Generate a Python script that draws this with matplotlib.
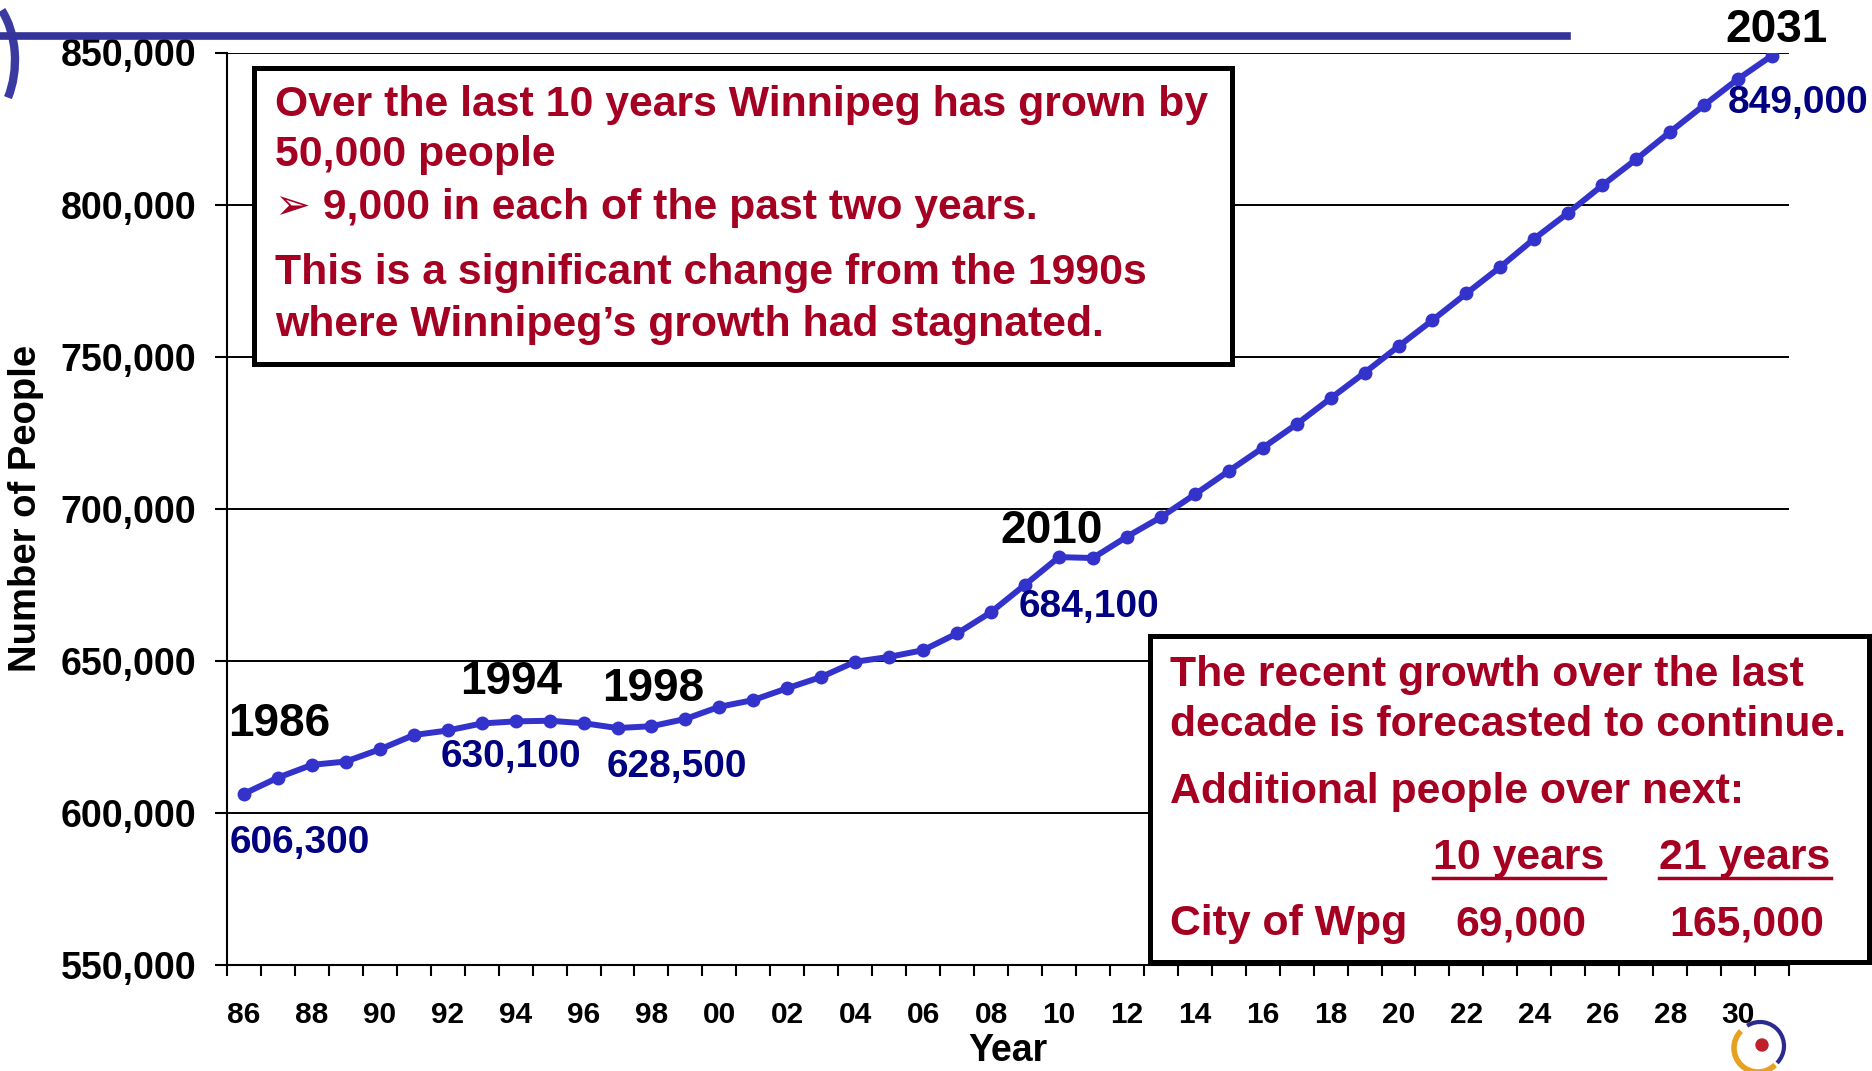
import matplotlib.pyplot as plt
from matplotlib.patches import Rectangle, Ellipse, Arc
from matplotlib.lines import Line2D
from matplotlib.ticker import FuncFormatter

years = list(range(1986, 2032))
population = [606300, 611600, 615800, 616900, 620900, 625600, 627100, 629400, 630100, 630300,
              629500, 627900, 628500, 630900, 634900, 637100, 641000, 644700, 649700, 651300,
              653500, 659000, 666000, 675000, 684100, 683800, 690800, 697200, 704700, 712400,
              720000, 727800, 736300, 744700, 753400, 762000, 770800, 779500, 788800, 797300,
              806300, 814900, 823900, 832700, 841300, 849000]

tick_years = list(range(1986, 2031, 2))
tick_labels = ["%02d" % (y % 100) for y in tick_years]
y_ticks = [550000, 600000, 650000, 700000, 750000, 800000, 850000]

# (year, offset of year label, offset of value label) in pixels
callouts = [(1986, (35, 70), (56, -49)),
            (1994, (-4, 39), (-5, -36)),
            (1998, (2, 37), (25, -41)),
            (2010, (-7, 26), (30, -50)),
            (2031, (4, 26), (26, -47))]

box1_lines = ["Over the last 10 years Winnipeg has grown by",
              "50,000 people",
              "\u27a2 9,000 in each of the past two years.",
              "This is a significant change from the 1990s",
              "where Winnipeg\u2019s growth had stagnated."]
box2_lines = ["The recent growth over the last",
              "decade is forecasted to continue.",
              "Additional people over next:"]
horizons = ["10 years", "21 years"]
additional = ["69,000", "165,000"]

RED = "#A50021"
NAVY = "#000080"
LINE = "#3333CC"
FONT = ["Liberation Sans", "DejaVu Sans"]
BOXFS = 30.8

plt.rcParams["font.family"] = FONT
plt.rcParams["font.weight"] = "bold"

W, H = 1872, 1071
fig = plt.figure(figsize=(W / 100, H / 100), dpi=100)
ax = fig.add_axes([227 / W, 1 - 965 / H, (1789 - 227) / W, (965 - 52.5) / H])


def fx(px):
    return px / W


def fy(py):
    return 1 - py / H


ax.plot(years, population, color=LINE, lw=4.3, marker="o", ms=9, zorder=3)

ax.set_xlim(1985.5, 2031.5)
ax.set_ylim(550000, 850000)
ax.set_yticks(y_ticks)
ax.yaxis.set_major_formatter(FuncFormatter(lambda v, p: f"{int(v):,}"))
ax.set_xticks([y + 0.5 for y in range(1985, 2032)])
ax.set_xticklabels([])
ax.set_xticks(tick_years, tick_labels, minor=True)
ax.tick_params(axis="x", which="major", direction="out", length=8, width=1.5)
ax.tick_params(axis="x", which="minor", length=0, pad=26, labelsize=21.5)
ax.tick_params(axis="y", direction="out", length=9, width=1.5, pad=13, labelsize=27)
for lab in ax.get_xticklabels(minor=True) + ax.get_yticklabels():
    lab.set_fontweight("bold")

ax.grid(axis="y", color="black", lw=1.4)
for s in ["top", "right"]:
    ax.spines[s].set_visible(False)
for s in ["left", "bottom"]:
    ax.spines[s].set_linewidth(1.5)

ax.set_ylabel("Number of People", fontsize=27.5, fontweight="bold", va="center")
ax.yaxis.set_label_coords((26 - 227) / (1789 - 227), 0.5)
ax.set_xlabel("Year", fontsize=27, fontweight="bold", va="center")
ax.xaxis.set_label_coords(0.5, (965 - 1051) / (965 - 52.5))

for yr, off_year, off_val in callouts:
    val = population[years.index(yr)]
    ax.annotate(str(yr), (yr, val), xytext=off_year, textcoords="offset pixels",
                ha="center", va="center", fontsize=33, fontweight="bold", color="black")
    ax.annotate(f"{val:,}", (yr, val), xytext=off_val, textcoords="offset pixels",
                ha="center", va="center", fontsize=28, fontweight="bold", color=NAVY)

# top decoration bar
fig.add_artist(Line2D([0, fx(1567)], [fy(35.5), fy(35.5)], color="#333399", lw=5.5))

# text boxes
fig.add_artist(Rectangle((fx(254), fy(364)), fx(1232) - fx(254), fy(68) - fy(364),
                         transform=fig.transFigure, facecolor="white", edgecolor="black",
                         lw=3.6, zorder=5))
fig.add_artist(Rectangle((fx(1150), fy(962)), fx(1869) - fx(1150), fy(636) - fy(962),
                         transform=fig.transFigure, facecolor="white", edgecolor="black",
                         lw=3.6, zorder=5))

box1_y = [105, 155, 208, 273, 325]
for txt, yy in zip(box1_lines, box1_y):
    fig.text(fx(275), fy(yy), txt, fontsize=BOXFS, fontweight="bold", color=RED,
             va="center", ha="left", zorder=6, family=FONT)

box2_y = [675, 725, 792]
for txt, yy in zip(box2_lines, box2_y):
    fig.text(fx(1170), fy(yy), txt, fontsize=BOXFS, fontweight="bold", color=RED,
             va="center", ha="left", zorder=6)

col_x = [1519, 1745]
head_texts = []
for txt, xx in zip(horizons, col_x):
    head_texts.append(fig.text(fx(xx), fy(858), txt, fontsize=BOXFS, fontweight="bold",
                               color=RED, va="center", ha="center", zorder=6))
fig.text(fx(1170), fy(924), "City of Wpg", fontsize=BOXFS, fontweight="bold", color=RED,
         va="center", ha="left", zorder=6)
for txt, xx in zip(additional, col_x):
    fig.text(fx(xx + 2), fy(924), txt, fontsize=BOXFS, fontweight="bold", color=RED,
             va="center", ha="center", zorder=6)

# logos
fig.add_artist(Arc((fx(-30), fy(60)), fx(90), 140 / H, theta1=-60, theta2=70,
                   transform=fig.transFigure, color="#3a3aa0", lw=6))
fig.add_artist(Arc((fx(1758), fy(1048)), fx(48), 48 / H, theta1=120, theta2=300,
                   transform=fig.transFigure, color="#E8A020", lw=4))
fig.add_artist(Arc((fx(1760), fy(1046)), fx(48), 48 / H, theta1=-60, theta2=110,
                   transform=fig.transFigure, color="#2a2a90", lw=3))
fig.add_artist(Ellipse((fx(1762), fy(1045)), fx(12), 12 / H, transform=fig.transFigure,
                       color="#C0202A"))

# underline the column headers
fig.canvas.draw()
renderer = fig.canvas.get_renderer()
for t in head_texts:
    bb = t.get_window_extent(renderer)
    yline = fy(878)
    fig.add_artist(Line2D([bb.x0 / W, bb.x1 / W], [yline, yline], color=RED, lw=2.5,
                          zorder=6))

fig.savefig("out.png", dpi=100)
